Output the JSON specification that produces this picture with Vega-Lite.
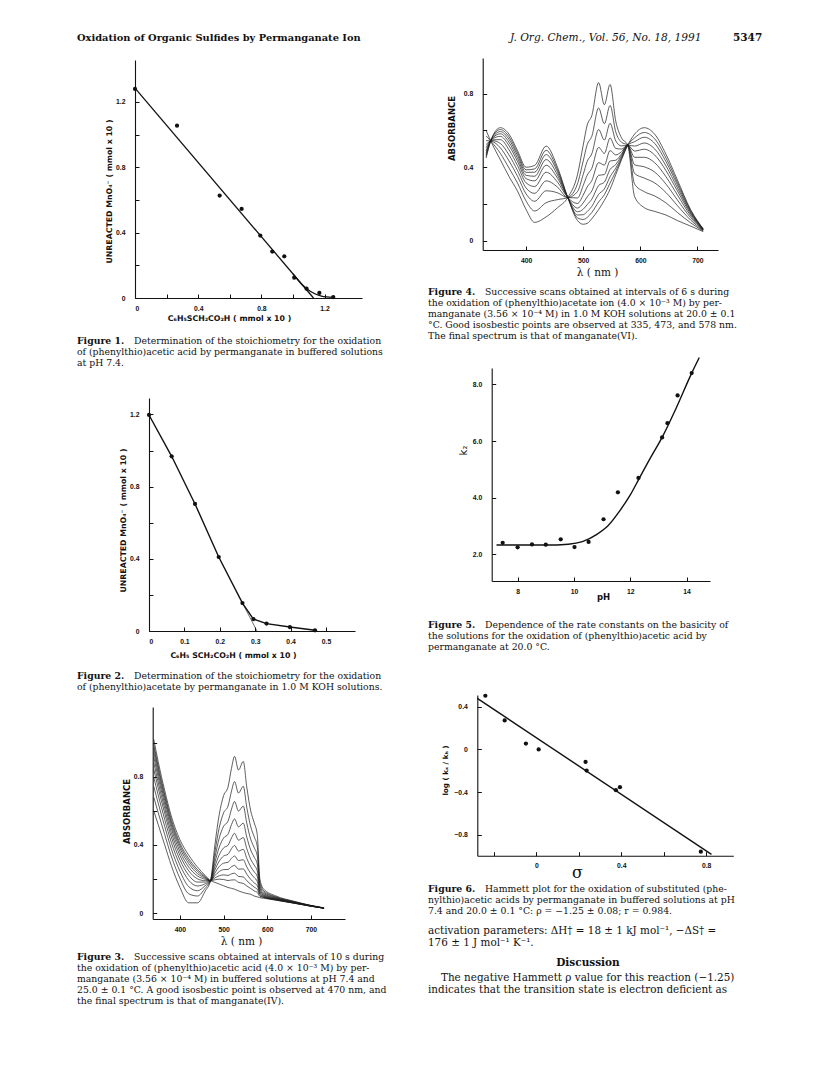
{
  "$schema": "https://vega.github.io/schema/vega-lite/v6.json",
  "width": 824,
  "height": 1071,
  "autosize": {"type": "none"},
  "padding": 0,
  "background": "white",
  "config": {
    "view": {"stroke": null},
    "axis": {
      "grid": false,
      "domainColor": "#111",
      "domainWidth": 1.1,
      "tickColor": "#111",
      "tickWidth": 1,
      "tickSize": -4,
      "labelFont": "Liberation Sans",
      "labelFontSize": 6.8,
      "labelFontWeight": "bold",
      "labelColor": "#111",
      "titleFont": "DejaVu Sans",
      "titleFontSize": 7.8,
      "titleFontWeight": "bold",
      "titleColor": "#111",
      "titleBaseline": "middle"
    },
    "axisX": {"labelPadding": 11},
    "axisY": {"labelPadding": 14}
  },
  "datasets": {
    "f1pts": [
      {"x": 0, "y": 1.28}, {"x": 0.266, "y": 1.055}, {"x": 0.536, "y": 0.627}, {"x": 0.675, "y": 0.545},
      {"x": 0.793, "y": 0.382}, {"x": 0.869, "y": 0.284}, {"x": 0.945, "y": 0.255}, {"x": 1.008, "y": 0.124},
      {"x": 1.086, "y": 0.057}, {"x": 1.167, "y": 0.031}, {"x": 1.255, "y": 0.006}
    ],
    "f1fit": [{"x": 0, "y": 1.285}, {"x": 1.13, "y": 0}],
    "f1curve": [{"x": 1.0, "y": 0.148}, {"x": 1.06, "y": 0.08}, {"x": 1.12, "y": 0.035}, {"x": 1.18, "y": 0.012}, {"x": 1.255, "y": 0.004}],
    "f2pts": [
      {"x": 0, "y": 1.197}, {"x": 0.064, "y": 0.968}, {"x": 0.13, "y": 0.704}, {"x": 0.197, "y": 0.41},
      {"x": 0.264, "y": 0.155}, {"x": 0.295, "y": 0.066}, {"x": 0.332, "y": 0.041}, {"x": 0.398, "y": 0.022},
      {"x": 0.469, "y": 0.004}
    ],
    "f2ext": [{"x": 0.264, "y": 0.155}, {"x": 0.305, "y": 0}],
    "f5pts": [
      {"x": 7.47, "y": 2.41}, {"x": 8.0, "y": 2.25}, {"x": 8.51, "y": 2.35}, {"x": 9.0, "y": 2.34},
      {"x": 9.53, "y": 2.53}, {"x": 10.02, "y": 2.26}, {"x": 10.52, "y": 2.44}, {"x": 11.05, "y": 3.24},
      {"x": 11.56, "y": 4.19}, {"x": 12.29, "y": 4.7}, {"x": 13.13, "y": 6.13}, {"x": 13.32, "y": 6.63},
      {"x": 13.68, "y": 7.61}, {"x": 14.18, "y": 8.4}
    ],
    "f5fit": [
      {"x": 7.25, "y": 2.33}, {"x": 8, "y": 2.33}, {"x": 9, "y": 2.33}, {"x": 9.8, "y": 2.36}, {"x": 10.3, "y": 2.45},
      {"x": 10.8, "y": 2.7}, {"x": 11.2, "y": 3.0}, {"x": 11.6, "y": 3.5}, {"x": 12.0, "y": 4.1}, {"x": 12.3, "y": 4.65},
      {"x": 12.7, "y": 5.38}, {"x": 13.13, "y": 6.13}, {"x": 13.6, "y": 7.1}, {"x": 14.18, "y": 8.4}, {"x": 14.45, "y": 8.95}
    ],
    "f6pts": [
      {"x": -0.24, "y": 0.503}, {"x": -0.149, "y": 0.272}, {"x": -0.049, "y": 0.056}, {"x": 0.011, "y": 0},
      {"x": 0.232, "y": -0.116}, {"x": 0.237, "y": -0.197}, {"x": 0.375, "y": -0.381}, {"x": 0.394, "y": -0.353},
      {"x": 0.775, "y": -0.956}
    ],
    "f6fit": [{"x": -0.278, "y": 0.478}, {"x": 0.825, "y": -0.981}],
    "f3": [
      {"s":0,"x":340,"y":0.6},{"s":0,"x":350,"y":0.52},{"s":0,"x":365,"y":0.4},{"s":0,"x":380,"y":0.28},{"s":0,"x":400,"y":0.15},{"s":0,"x":420,"y":0.06},{"s":0,"x":440,"y":0.06},{"s":0,"x":458,"y":0.13},{"s":0,"x":470,"y":0.19},{"s":0,"x":480,"y":0.4},{"s":0,"x":490,"y":0.58},{"s":0,"x":500,"y":0.69},{"s":0,"x":510,"y":0.74},{"s":0,"x":518,"y":0.85},{"s":0,"x":525,"y":0.92},{"s":0,"x":534,"y":0.84},{"s":0,"x":545,"y":0.89},{"s":0,"x":553,"y":0.74},{"s":0,"x":562,"y":0.6},{"s":0,"x":570,"y":0.53},{"s":0,"x":577,"y":0.46},{"s":0,"x":583,"y":0.2},{"s":0,"x":592,"y":0.14},{"s":0,"x":620,"y":0.1},{"s":0,"x":660,"y":0.07},{"s":0,"x":700,"y":0.045},{"s":0,"x":730,"y":0.03},
      {"s":1,"x":340,"y":0.68},{"s":1,"x":350,"y":0.59},{"s":1,"x":365,"y":0.461},{"s":1,"x":380,"y":0.335},{"s":1,"x":400,"y":0.203},{"s":1,"x":420,"y":0.113},{"s":1,"x":440,"y":0.1},{"s":1,"x":458,"y":0.147},{"s":1,"x":470,"y":0.19},{"s":1,"x":480,"y":0.358},{"s":1,"x":490,"y":0.502},{"s":1,"x":500,"y":0.589},{"s":1,"x":510,"y":0.628},{"s":1,"x":518,"y":0.716},{"s":1,"x":525,"y":0.772},{"s":1,"x":534,"y":0.705},{"s":1,"x":545,"y":0.744},{"s":1,"x":553,"y":0.621},{"s":1,"x":562,"y":0.507},{"s":1,"x":570,"y":0.448},{"s":1,"x":577,"y":0.391},{"s":1,"x":583,"y":0.179},{"s":1,"x":592,"y":0.13},{"s":1,"x":620,"y":0.095},{"s":1,"x":660,"y":0.068},{"s":1,"x":700,"y":0.044},{"s":1,"x":730,"y":0.03},
      {"s":2,"x":340,"y":0.743},{"s":2,"x":350,"y":0.646},{"s":2,"x":365,"y":0.509},{"s":2,"x":380,"y":0.379},{"s":2,"x":400,"y":0.245},{"s":2,"x":420,"y":0.155},{"s":2,"x":440,"y":0.131},{"s":2,"x":458,"y":0.161},{"s":2,"x":470,"y":0.19},{"s":2,"x":480,"y":0.325},{"s":2,"x":490,"y":0.441},{"s":2,"x":500,"y":0.51},{"s":2,"x":510,"y":0.539},{"s":2,"x":518,"y":0.61},{"s":2,"x":525,"y":0.655},{"s":2,"x":534,"y":0.599},{"s":2,"x":545,"y":0.628},{"s":2,"x":553,"y":0.528},{"s":2,"x":562,"y":0.433},{"s":2,"x":570,"y":0.384},{"s":2,"x":577,"y":0.336},{"s":2,"x":583,"y":0.163},{"s":2,"x":592,"y":0.122},{"s":2,"x":620,"y":0.092},{"s":2,"x":660,"y":0.066},{"s":2,"x":700,"y":0.043},{"s":2,"x":730,"y":0.029},
      {"s":3,"x":340,"y":0.797},{"s":3,"x":350,"y":0.694},{"s":3,"x":365,"y":0.55},{"s":3,"x":380,"y":0.416},{"s":3,"x":400,"y":0.282},{"s":3,"x":420,"y":0.192},{"s":3,"x":440,"y":0.159},{"s":3,"x":458,"y":0.172},{"s":3,"x":470,"y":0.19},{"s":3,"x":480,"y":0.297},{"s":3,"x":490,"y":0.387},{"s":3,"x":500,"y":0.441},{"s":3,"x":510,"y":0.463},{"s":3,"x":518,"y":0.519},{"s":3,"x":525,"y":0.553},{"s":3,"x":534,"y":0.506},{"s":3,"x":545,"y":0.528},{"s":3,"x":553,"y":0.446},{"s":3,"x":562,"y":0.37},{"s":3,"x":570,"y":0.328},{"s":3,"x":577,"y":0.288},{"s":3,"x":583,"y":0.148},{"s":3,"x":592,"y":0.115},{"s":3,"x":620,"y":0.088},{"s":3,"x":660,"y":0.064},{"s":3,"x":700,"y":0.043},{"s":3,"x":730,"y":0.029},
      {"s":4,"x":340,"y":0.844},{"s":4,"x":350,"y":0.735},{"s":4,"x":365,"y":0.586},{"s":4,"x":380,"y":0.448},{"s":4,"x":400,"y":0.312},{"s":4,"x":420,"y":0.222},{"s":4,"x":440,"y":0.182},{"s":4,"x":458,"y":0.182},{"s":4,"x":470,"y":0.19},{"s":4,"x":480,"y":0.272},{"s":4,"x":490,"y":0.342},{"s":4,"x":500,"y":0.383},{"s":4,"x":510,"y":0.398},{"s":4,"x":518,"y":0.441},{"s":4,"x":525,"y":0.468},{"s":4,"x":534,"y":0.428},{"s":4,"x":545,"y":0.443},{"s":4,"x":553,"y":0.378},{"s":4,"x":562,"y":0.316},{"s":4,"x":570,"y":0.281},{"s":4,"x":577,"y":0.248},{"s":4,"x":583,"y":0.136},{"s":4,"x":592,"y":0.109},{"s":4,"x":620,"y":0.086},{"s":4,"x":660,"y":0.063},{"s":4,"x":700,"y":0.042},{"s":4,"x":730,"y":0.029},
      {"s":5,"x":340,"y":0.881},{"s":5,"x":350,"y":0.768},{"s":5,"x":365,"y":0.614},{"s":5,"x":380,"y":0.474},{"s":5,"x":400,"y":0.338},{"s":5,"x":420,"y":0.248},{"s":5,"x":440,"y":0.201},{"s":5,"x":458,"y":0.19},{"s":5,"x":470,"y":0.19},{"s":5,"x":480,"y":0.253},{"s":5,"x":490,"y":0.305},{"s":5,"x":500,"y":0.335},{"s":5,"x":510,"y":0.345},{"s":5,"x":518,"y":0.378},{"s":5,"x":525,"y":0.397},{"s":5,"x":534,"y":0.364},{"s":5,"x":545,"y":0.374},{"s":5,"x":553,"y":0.321},{"s":5,"x":562,"y":0.272},{"s":5,"x":570,"y":0.242},{"s":5,"x":577,"y":0.215},{"s":5,"x":583,"y":0.126},{"s":5,"x":592,"y":0.104},{"s":5,"x":620,"y":0.083},{"s":5,"x":660,"y":0.062},{"s":5,"x":700,"y":0.042},{"s":5,"x":730,"y":0.029},
      {"s":6,"x":340,"y":0.915},{"s":6,"x":350,"y":0.798},{"s":6,"x":365,"y":0.64},{"s":6,"x":380,"y":0.498},{"s":6,"x":400,"y":0.36},{"s":6,"x":420,"y":0.27},{"s":6,"x":440,"y":0.218},{"s":6,"x":458,"y":0.198},{"s":6,"x":470,"y":0.19},{"s":6,"x":480,"y":0.235},{"s":6,"x":490,"y":0.273},{"s":6,"x":500,"y":0.293},{"s":6,"x":510,"y":0.298},{"s":6,"x":518,"y":0.321},{"s":6,"x":525,"y":0.335},{"s":6,"x":534,"y":0.308},{"s":6,"x":545,"y":0.313},{"s":6,"x":553,"y":0.271},{"s":6,"x":562,"y":0.233},{"s":6,"x":570,"y":0.208},{"s":6,"x":577,"y":0.186},{"s":6,"x":583,"y":0.118},{"s":6,"x":592,"y":0.1},{"s":6,"x":620,"y":0.081},{"s":6,"x":660,"y":0.061},{"s":6,"x":700,"y":0.041},{"s":6,"x":730,"y":0.029},
      {"s":7,"x":340,"y":0.944},{"s":7,"x":350,"y":0.823},{"s":7,"x":365,"y":0.662},{"s":7,"x":380,"y":0.518},{"s":7,"x":400,"y":0.38},{"s":7,"x":420,"y":0.29},{"s":7,"x":440,"y":0.232},{"s":7,"x":458,"y":0.204},{"s":7,"x":470,"y":0.19},{"s":7,"x":480,"y":0.22},{"s":7,"x":490,"y":0.244},{"s":7,"x":500,"y":0.255},{"s":7,"x":510,"y":0.256},{"s":7,"x":518,"y":0.272},{"s":7,"x":525,"y":0.28},{"s":7,"x":534,"y":0.258},{"s":7,"x":545,"y":0.259},{"s":7,"x":553,"y":0.228},{"s":7,"x":562,"y":0.198},{"s":7,"x":570,"y":0.177},{"s":7,"x":577,"y":0.161},{"s":7,"x":583,"y":0.11},{"s":7,"x":592,"y":0.097},{"s":7,"x":620,"y":0.08},{"s":7,"x":660,"y":0.06},{"s":7,"x":700,"y":0.041},{"s":7,"x":730,"y":0.028},
      {"s":8,"x":340,"y":0.97},{"s":8,"x":350,"y":0.846},{"s":8,"x":365,"y":0.682},{"s":8,"x":380,"y":0.535},{"s":8,"x":400,"y":0.396},{"s":8,"x":420,"y":0.306},{"s":8,"x":440,"y":0.245},{"s":8,"x":458,"y":0.209},{"s":8,"x":470,"y":0.19},{"s":8,"x":480,"y":0.206},{"s":8,"x":490,"y":0.219},{"s":8,"x":500,"y":0.224},{"s":8,"x":510,"y":0.221},{"s":8,"x":518,"y":0.23},{"s":8,"x":525,"y":0.234},{"s":8,"x":534,"y":0.215},{"s":8,"x":545,"y":0.212},{"s":8,"x":553,"y":0.19},{"s":8,"x":562,"y":0.169},{"s":8,"x":570,"y":0.152},{"s":8,"x":577,"y":0.139},{"s":8,"x":583,"y":0.103},{"s":8,"x":592,"y":0.093},{"s":8,"x":620,"y":0.078},{"s":8,"x":660,"y":0.059},{"s":8,"x":700,"y":0.041},{"s":8,"x":730,"y":0.028},
      {"s":9,"x":340,"y":0.991},{"s":9,"x":350,"y":0.864},{"s":9,"x":365,"y":0.698},{"s":9,"x":380,"y":0.55},{"s":9,"x":400,"y":0.41},{"s":9,"x":420,"y":0.32},{"s":9,"x":440,"y":0.255},{"s":9,"x":458,"y":0.214},{"s":9,"x":470,"y":0.19},{"s":9,"x":480,"y":0.195},{"s":9,"x":490,"y":0.199},{"s":9,"x":500,"y":0.197},{"s":9,"x":510,"y":0.191},{"s":9,"x":518,"y":0.194},{"s":9,"x":525,"y":0.195},{"s":9,"x":534,"y":0.18},{"s":9,"x":545,"y":0.174},{"s":9,"x":553,"y":0.159},{"s":9,"x":562,"y":0.144},{"s":9,"x":570,"y":0.13},{"s":9,"x":577,"y":0.121},{"s":9,"x":583,"y":0.098},{"s":9,"x":592,"y":0.091},{"s":9,"x":620,"y":0.077},{"s":9,"x":660,"y":0.059},{"s":9,"x":700,"y":0.04},{"s":9,"x":730,"y":0.028},
      {"s":10,"x":340,"y":1.02},{"s":10,"x":350,"y":0.89},{"s":10,"x":365,"y":0.72},{"s":10,"x":380,"y":0.57},{"s":10,"x":400,"y":0.43},{"s":10,"x":420,"y":0.34},{"s":10,"x":440,"y":0.27},{"s":10,"x":458,"y":0.22},{"s":10,"x":470,"y":0.19},{"s":10,"x":480,"y":0.18},{"s":10,"x":490,"y":0.17},{"s":10,"x":500,"y":0.16},{"s":10,"x":510,"y":0.15},{"s":10,"x":518,"y":0.145},{"s":10,"x":525,"y":0.14},{"s":10,"x":534,"y":0.13},{"s":10,"x":545,"y":0.12},{"s":10,"x":553,"y":0.115},{"s":10,"x":562,"y":0.11},{"s":10,"x":570,"y":0.1},{"s":10,"x":577,"y":0.095},{"s":10,"x":583,"y":0.09},{"s":10,"x":592,"y":0.087},{"s":10,"x":620,"y":0.075},{"s":10,"x":660,"y":0.058},{"s":10,"x":700,"y":0.04},{"s":10,"x":730,"y":0.028}
    ],
    "f4": [
      {"s":0,"x":330,"y":0.6},{"s":0,"x":340,"y":0.53},{"s":0,"x":355,"y":0.44},{"s":0,"x":370,"y":0.35},{"s":0,"x":385,"y":0.27},{"s":0,"x":400,"y":0.17},{"s":0,"x":415,"y":0.1},{"s":0,"x":435,"y":0.13},{"s":0,"x":455,"y":0.18},{"s":0,"x":473,"y":0.235},{"s":0,"x":490,"y":0.36},{"s":0,"x":500,"y":0.52},{"s":0,"x":507,"y":0.63},{"s":0,"x":515,"y":0.68},{"s":0,"x":527,"y":0.86},{"s":0,"x":537,"y":0.74},{"s":0,"x":547,"y":0.85},{"s":0,"x":557,"y":0.65},{"s":0,"x":567,"y":0.56},{"s":0,"x":578,"y":0.52},{"s":0,"x":590,"y":0.24},{"s":0,"x":607,"y":0.18},{"s":0,"x":625,"y":0.16},{"s":0,"x":645,"y":0.14},{"s":0,"x":665,"y":0.11},{"s":0,"x":688,"y":0.08},{"s":0,"x":710,"y":0.05},
      {"s":1,"x":330,"y":0.57},{"s":1,"x":340,"y":0.536},{"s":1,"x":355,"y":0.475},{"s":1,"x":370,"y":0.396},{"s":1,"x":385,"y":0.314},{"s":1,"x":400,"y":0.216},{"s":1,"x":415,"y":0.162},{"s":1,"x":435,"y":0.207},{"s":1,"x":455,"y":0.224},{"s":1,"x":473,"y":0.235},{"s":1,"x":490,"y":0.31},{"s":1,"x":500,"y":0.434},{"s":1,"x":507,"y":0.523},{"s":1,"x":515,"y":0.568},{"s":1,"x":527,"y":0.722},{"s":1,"x":537,"y":0.636},{"s":1,"x":547,"y":0.736},{"s":1,"x":557,"y":0.592},{"s":1,"x":567,"y":0.536},{"s":1,"x":578,"y":0.52},{"s":1,"x":590,"y":0.308},{"s":1,"x":607,"y":0.267},{"s":1,"x":625,"y":0.244},{"s":1,"x":645,"y":0.206},{"s":1,"x":665,"y":0.154},{"s":1,"x":688,"y":0.098},{"s":1,"x":710,"y":0.053},
      {"s":2,"x":330,"y":0.545},{"s":2,"x":340,"y":0.541},{"s":2,"x":355,"y":0.505},{"s":2,"x":370,"y":0.435},{"s":2,"x":385,"y":0.351},{"s":2,"x":400,"y":0.255},{"s":2,"x":415,"y":0.215},{"s":2,"x":435,"y":0.272},{"s":2,"x":455,"y":0.261},{"s":2,"x":473,"y":0.235},{"s":2,"x":490,"y":0.268},{"s":2,"x":500,"y":0.361},{"s":2,"x":507,"y":0.432},{"s":2,"x":515,"y":0.473},{"s":2,"x":527,"y":0.605},{"s":2,"x":537,"y":0.548},{"s":2,"x":547,"y":0.639},{"s":2,"x":557,"y":0.543},{"s":2,"x":567,"y":0.516},{"s":2,"x":578,"y":0.52},{"s":2,"x":590,"y":0.366},{"s":2,"x":607,"y":0.341},{"s":2,"x":625,"y":0.315},{"s":2,"x":645,"y":0.262},{"s":2,"x":665,"y":0.191},{"s":2,"x":688,"y":0.113},{"s":2,"x":710,"y":0.056},
      {"s":3,"x":330,"y":0.524},{"s":3,"x":340,"y":0.545},{"s":3,"x":355,"y":0.529},{"s":3,"x":370,"y":0.467},{"s":3,"x":385,"y":0.382},{"s":3,"x":400,"y":0.287},{"s":3,"x":415,"y":0.258},{"s":3,"x":435,"y":0.326},{"s":3,"x":455,"y":0.292},{"s":3,"x":473,"y":0.235},{"s":3,"x":490,"y":0.233},{"s":3,"x":500,"y":0.301},{"s":3,"x":507,"y":0.357},{"s":3,"x":515,"y":0.394},{"s":3,"x":527,"y":0.508},{"s":3,"x":537,"y":0.475},{"s":3,"x":547,"y":0.559},{"s":3,"x":557,"y":0.502},{"s":3,"x":567,"y":0.499},{"s":3,"x":578,"y":0.52},{"s":3,"x":590,"y":0.413},{"s":3,"x":607,"y":0.402},{"s":3,"x":625,"y":0.374},{"s":3,"x":645,"y":0.308},{"s":3,"x":665,"y":0.222},{"s":3,"x":688,"y":0.126},{"s":3,"x":710,"y":0.058},
      {"s":4,"x":330,"y":0.506},{"s":4,"x":340,"y":0.549},{"s":4,"x":355,"y":0.55},{"s":4,"x":370,"y":0.495},{"s":4,"x":385,"y":0.409},{"s":4,"x":400,"y":0.315},{"s":4,"x":415,"y":0.295},{"s":4,"x":435,"y":0.373},{"s":4,"x":455,"y":0.319},{"s":4,"x":473,"y":0.235},{"s":4,"x":490,"y":0.203},{"s":4,"x":500,"y":0.249},{"s":4,"x":507,"y":0.293},{"s":4,"x":515,"y":0.327},{"s":4,"x":527,"y":0.425},{"s":4,"x":537,"y":0.412},{"s":4,"x":547,"y":0.491},{"s":4,"x":557,"y":0.467},{"s":4,"x":567,"y":0.484},{"s":4,"x":578,"y":0.52},{"s":4,"x":590,"y":0.454},{"s":4,"x":607,"y":0.454},{"s":4,"x":625,"y":0.425},{"s":4,"x":645,"y":0.348},{"s":4,"x":665,"y":0.249},{"s":4,"x":688,"y":0.137},{"s":4,"x":710,"y":0.059},
      {"s":5,"x":330,"y":0.49},{"s":5,"x":340,"y":0.552},{"s":5,"x":355,"y":0.568},{"s":5,"x":370,"y":0.518},{"s":5,"x":385,"y":0.431},{"s":5,"x":400,"y":0.338},{"s":5,"x":415,"y":0.326},{"s":5,"x":435,"y":0.411},{"s":5,"x":455,"y":0.341},{"s":5,"x":473,"y":0.235},{"s":5,"x":490,"y":0.178},{"s":5,"x":500,"y":0.206},{"s":5,"x":507,"y":0.239},{"s":5,"x":515,"y":0.271},{"s":5,"x":527,"y":0.356},{"s":5,"x":537,"y":0.36},{"s":5,"x":547,"y":0.434},{"s":5,"x":557,"y":0.438},{"s":5,"x":567,"y":0.472},{"s":5,"x":578,"y":0.52},{"s":5,"x":590,"y":0.488},{"s":5,"x":607,"y":0.498},{"s":5,"x":625,"y":0.467},{"s":5,"x":645,"y":0.381},{"s":5,"x":665,"y":0.271},{"s":5,"x":688,"y":0.146},{"s":5,"x":710,"y":0.061},
      {"s":6,"x":330,"y":0.478},{"s":6,"x":340,"y":0.554},{"s":6,"x":355,"y":0.582},{"s":6,"x":370,"y":0.536},{"s":6,"x":385,"y":0.448},{"s":6,"x":400,"y":0.356},{"s":6,"x":415,"y":0.351},{"s":6,"x":435,"y":0.442},{"s":6,"x":455,"y":0.358},{"s":6,"x":473,"y":0.235},{"s":6,"x":490,"y":0.158},{"s":6,"x":500,"y":0.172},{"s":6,"x":507,"y":0.197},{"s":6,"x":515,"y":0.226},{"s":6,"x":527,"y":0.301},{"s":6,"x":537,"y":0.319},{"s":6,"x":547,"y":0.388},{"s":6,"x":557,"y":0.415},{"s":6,"x":567,"y":0.463},{"s":6,"x":578,"y":0.52},{"s":6,"x":590,"y":0.515},{"s":6,"x":607,"y":0.532},{"s":6,"x":625,"y":0.5},{"s":6,"x":645,"y":0.407},{"s":6,"x":665,"y":0.288},{"s":6,"x":688,"y":0.153},{"s":6,"x":710,"y":0.062},
      {"s":7,"x":330,"y":0.468},{"s":7,"x":340,"y":0.556},{"s":7,"x":355,"y":0.594},{"s":7,"x":370,"y":0.552},{"s":7,"x":385,"y":0.464},{"s":7,"x":400,"y":0.372},{"s":7,"x":415,"y":0.373},{"s":7,"x":435,"y":0.469},{"s":7,"x":455,"y":0.374},{"s":7,"x":473,"y":0.235},{"s":7,"x":490,"y":0.14},{"s":7,"x":500,"y":0.142},{"s":7,"x":507,"y":0.159},{"s":7,"x":515,"y":0.187},{"s":7,"x":527,"y":0.253},{"s":7,"x":537,"y":0.282},{"s":7,"x":547,"y":0.348},{"s":7,"x":557,"y":0.395},{"s":7,"x":567,"y":0.454},{"s":7,"x":578,"y":0.52},{"s":7,"x":590,"y":0.539},{"s":7,"x":607,"y":0.563},{"s":7,"x":625,"y":0.53},{"s":7,"x":645,"y":0.43},{"s":7,"x":665,"y":0.304},{"s":7,"x":688,"y":0.159},{"s":7,"x":710,"y":0.063},
      {"s":8,"x":330,"y":0.459},{"s":8,"x":340,"y":0.558},{"s":8,"x":355,"y":0.605},{"s":8,"x":370,"y":0.566},{"s":8,"x":385,"y":0.477},{"s":8,"x":400,"y":0.386},{"s":8,"x":415,"y":0.391},{"s":8,"x":435,"y":0.492},{"s":8,"x":455,"y":0.387},{"s":8,"x":473,"y":0.235},{"s":8,"x":490,"y":0.125},{"s":8,"x":500,"y":0.116},{"s":8,"x":507,"y":0.127},{"s":8,"x":515,"y":0.154},{"s":8,"x":527,"y":0.211},{"s":8,"x":537,"y":0.251},{"s":8,"x":547,"y":0.314},{"s":8,"x":557,"y":0.377},{"s":8,"x":567,"y":0.447},{"s":8,"x":578,"y":0.52},{"s":8,"x":590,"y":0.56},{"s":8,"x":607,"y":0.589},{"s":8,"x":625,"y":0.555},{"s":8,"x":645,"y":0.45},{"s":8,"x":665,"y":0.317},{"s":8,"x":688,"y":0.165},{"s":8,"x":710,"y":0.064},
      {"s":9,"x":330,"y":0.45},{"s":9,"x":340,"y":0.56},{"s":9,"x":355,"y":0.615},{"s":9,"x":370,"y":0.58},{"s":9,"x":385,"y":0.49},{"s":9,"x":400,"y":0.4},{"s":9,"x":415,"y":0.41},{"s":9,"x":435,"y":0.515},{"s":9,"x":455,"y":0.4},{"s":9,"x":473,"y":0.235},{"s":9,"x":490,"y":0.11},{"s":9,"x":500,"y":0.09},{"s":9,"x":507,"y":0.095},{"s":9,"x":515,"y":0.12},{"s":9,"x":527,"y":0.17},{"s":9,"x":537,"y":0.22},{"s":9,"x":547,"y":0.28},{"s":9,"x":557,"y":0.36},{"s":9,"x":567,"y":0.44},{"s":9,"x":578,"y":0.52},{"s":9,"x":590,"y":0.58},{"s":9,"x":607,"y":0.615},{"s":9,"x":625,"y":0.58},{"s":9,"x":645,"y":0.47},{"s":9,"x":665,"y":0.33},{"s":9,"x":688,"y":0.17},{"s":9,"x":710,"y":0.065}
    ]
  },
  "resolve": {"scale": {"x": "independent", "y": "independent"}},
  "layer": [
    {
      "encoding": {
        "x": {"field": "x", "type": "quantitative",
          "scale": {"domain": [0, 1.437], "range": [135, 362], "nice": false, "zero": false},
          "axis": {"orient": "bottom", "offset": -773, "values": [0, 0.2, 0.4, 0.6, 0.8, 1, 1.2],
            "labelExpr": "datum.value == 0 ? '0' : (abs(round(datum.value*10)) % 4 == 0 ? format(datum.value, '.1f') : '')",
            "title": "C₆H₅SCH₂CO₂H  ( mmol x 10 )", "titleX": 229, "titleY": 20}},
        "y": {"field": "y", "type": "quantitative",
          "scale": {"domain": [0, 1.457], "range": [298, 60], "nice": false, "zero": false},
          "axis": {"orient": "left", "offset": -135, "values": [0, 0.2, 0.4, 0.6, 0.8, 1, 1.2],
            "labelExpr": "datum.value == 0 ? '0' : (abs(round(datum.value*10)) % 4 == 0 ? format(datum.value, '.1f') : '')",
            "title": "UNREACTED  MnO₄⁻  ( mmol x 10 )", "titleX": -26, "titleY": 191}}
      },
      "layer": [
        {"data": {"name": "f1fit"}, "mark": {"type": "line", "color": "#111", "strokeWidth": 1.3}},
        {"data": {"name": "f1curve"}, "mark": {"type": "line", "color": "#111", "strokeWidth": 1.3, "interpolate": "monotone"}},
        {"data": {"name": "f1pts"}, "mark": {"type": "point", "filled": true, "size": 18, "color": "#111", "opacity": 1}}
      ]
    },
    {
      "encoding": {
        "x": {"field": "x", "type": "quantitative",
          "scale": {"domain": [0, 0.582], "range": [149, 355], "nice": false, "zero": false},
          "axis": {"orient": "bottom", "offset": -440, "values": [0, 0.1, 0.2, 0.3, 0.4, 0.5],
            "labelExpr": "datum.value == 0 ? '0' : format(datum.value, '.1f')",
            "title": "C₆H₅ SCH₂CO₂H  ( mmol x 10 )", "titleX": 233, "titleY": 24}},
        "y": {"field": "y", "type": "quantitative",
          "scale": {"domain": [0, 1.291], "range": [631, 398], "nice": false, "zero": false},
          "axis": {"orient": "left", "offset": -149, "values": [0, 0.2, 0.4, 0.6, 0.8, 1, 1.2],
            "labelExpr": "datum.value == 0 ? '0' : (abs(round(datum.value*10)) % 4 == 0 ? format(datum.value, '.1f') : '')",
            "title": "UNREACTED  MnO₄⁻  ( mmol x 10 )", "titleX": -26, "titleY": 520}}
      },
      "layer": [
        {"data": {"name": "f2ext"}, "mark": {"type": "line", "color": "#111", "strokeWidth": 0.6}},
        {"data": {"name": "f2pts"}, "mark": {"type": "line", "color": "#111", "strokeWidth": 1.4}},
        {"data": {"name": "f2pts"}, "mark": {"type": "point", "filled": true, "size": 18, "color": "#111", "opacity": 1}}
      ]
    },
    {
      "data": {"name": "f3"},
      "mark": {"type": "line", "interpolate": "monotone", "color": "#1a1a1a", "strokeWidth": 0.7},
      "encoding": {
        "x": {"field": "x", "type": "quantitative",
          "scale": {"domain": [337.5, 778], "range": [152.7, 345], "nice": false, "zero": false},
          "axis": {"orient": "bottom", "offset": -152, "values": [400, 500, 600, 700], "format": "d",
            "title": "λ ( nm )", "titleFont": "DejaVu Serif", "titleFontSize": 10.5, "titleFontWeight": "normal", "titleX": 241, "titleY": 22}},
        "y": {"field": "y", "type": "quantitative",
          "scale": {"domain": [-0.035, 1.21], "range": [919, 707], "nice": false, "zero": false},
          "axis": {"orient": "left", "offset": -152.7, "values": [0, 0.2, 0.4, 0.6, 0.8, 1],
            "labelExpr": "datum.value == 0 ? '0' : (abs(round(datum.value*10)) % 4 == 0 ? format(datum.value, '.1f') : '')",
            "title": "ABSORBANCE", "titleFontSize": 8.5, "titleX": -26, "titleY": 811}},
        "detail": {"field": "s", "type": "nominal"}
      }
    },
    {
      "data": {"name": "f4"},
      "mark": {"type": "line", "interpolate": "monotone", "color": "#1a1a1a", "strokeWidth": 0.7},
      "encoding": {
        "x": {"field": "x", "type": "quantitative",
          "scale": {"domain": [324, 736], "range": [482.7, 718], "nice": false, "zero": false},
          "axis": {"orient": "bottom", "offset": -821, "values": [400, 500, 600, 700], "format": "d",
            "title": "λ ( nm )", "titleFont": "DejaVu Serif", "titleFontSize": 10.5, "titleFontWeight": "normal", "titleX": 597, "titleY": 22}},
        "y": {"field": "y", "type": "quantitative",
          "scale": {"domain": [-0.05, 0.994], "range": [250, 58], "nice": false, "zero": false},
          "axis": {"orient": "left", "offset": -482.7, "values": [0, 0.2, 0.4, 0.6, 0.8],
            "labelExpr": "datum.value == 0 ? '0' : (abs(round(datum.value*10)) % 4 == 0 ? format(datum.value, '.1f') : '')",
            "title": "ABSORBANCE", "titleFontSize": 8.5, "titleX": -31, "titleY": 128}},
        "detail": {"field": "s", "type": "nominal"}
      }
    },
    {
      "encoding": {
        "x": {"field": "x", "type": "quantitative",
          "scale": {"domain": [7.08, 14.83], "range": [491.7, 710], "nice": false, "zero": false},
          "axis": {"orient": "bottom", "offset": -490, "values": [8, 10, 12, 14], "format": "d",
            "title": "pH", "titleFontSize": 8.5, "titleX": 603, "titleY": 15}},
        "y": {"field": "y", "type": "quantitative",
          "scale": {"domain": [1.06, 8.58], "range": [581, 368], "nice": false, "zero": false},
          "axis": {"orient": "left", "offset": -491.7, "values": [2, 4, 6, 8], "format": ".1f",
            "title": "k₂", "titleFontSize": 10, "titleFontWeight": "normal", "titleX": -28, "titleY": 450}}
      },
      "layer": [
        {"data": {"name": "f5fit"}, "mark": {"type": "line", "color": "#111", "strokeWidth": 1.4, "interpolate": "monotone"}},
        {"data": {"name": "f5pts"}, "mark": {"type": "point", "filled": true, "size": 18, "color": "#111", "opacity": 1}}
      ]
    },
    {
      "encoding": {
        "x": {"field": "x", "type": "quantitative",
          "scale": {"domain": [-0.278, 0.928], "range": [477.3, 733.3], "nice": false, "zero": false},
          "axis": {"orient": "bottom", "offset": -215.3, "values": [-0.2, 0, 0.2, 0.4, 0.6, 0.8],
            "labelExpr": "datum.value == 0 ? '0' : (abs(round(datum.value*10)) % 4 == 0 ? format(datum.value, '.1f') : '')",
            "title": "σ", "titleFont": "DejaVu Serif", "titleFontSize": 16, "titleFontWeight": "normal", "titleX": 577, "titleY": 17}},
        "y": {"field": "y", "type": "quantitative",
          "scale": {"domain": [-0.994, 0.51], "range": [855.7, 695], "nice": false, "zero": false},
          "axis": {"orient": "left", "offset": -477.3, "values": [-0.8, -0.4, 0, 0.4],
            "labelExpr": "datum.value == 0 ? '0' : format(datum.value, '.1f')",
            "title": "log ( kₓ / kₕ )", "titleFontSize": 7.2, "titleX": -32, "titleY": 770}}
      },
      "layer": [
        {"data": {"name": "f6fit"}, "mark": {"type": "line", "color": "#111", "strokeWidth": 1.4}},
        {"data": {"name": "f6pts"}, "mark": {"type": "point", "filled": true, "size": 18, "color": "#111", "opacity": 1}}
      ]
    },
    {"data": {"values": [{}]}, "mark": {"type": "text", "x": 77, "y": 41, "align": "left", "baseline": "alphabetic", "font": "DejaVu Serif", "fontSize": 9.85, "fontWeight": "bold", "color": "#111", "text": "Oxidation of Organic Sulfides by Permanganate Ion"}},
    {"data": {"values": [{}]}, "mark": {"type": "text", "x": 510, "y": 41, "align": "left", "baseline": "alphabetic", "font": "DejaVu Serif", "fontSize": 10.6, "fontStyle": "italic", "color": "#111", "text": "J. Org. Chem., Vol. 56, No. 18, 1991"}},
    {"data": {"values": [{}]}, "mark": {"type": "text", "x": 733, "y": 41, "align": "left", "baseline": "alphabetic", "font": "DejaVu Serif", "fontSize": 10.5, "fontWeight": "bold", "color": "#111", "text": "5347"}},

    {"data": {"values": [{}]}, "mark": {"type": "text", "x": 77, "y": 344, "align": "left", "baseline": "alphabetic", "font": "DejaVu Serif", "fontSize": 9.3, "fontWeight": "bold", "color": "#111", "text": "Figure 1."}},
    {"data": {"values": [{}]}, "mark": {"type": "text", "x": 134, "y": 344, "align": "left", "baseline": "alphabetic", "font": "DejaVu Serif", "fontSize": 9.3, "color": "#111", "text": "Determination of the stoichiometry for the oxidation"}},
    {"data": {"values": [{}]}, "mark": {"type": "text", "x": 77, "y": 355, "align": "left", "baseline": "alphabetic", "font": "DejaVu Serif", "fontSize": 9.3, "lineHeight": 11, "color": "#111", "text": ["of (phenylthio)acetic acid by permanganate in buffered solutions", "at pH 7.4."]}},

    {"data": {"values": [{}]}, "mark": {"type": "text", "x": 77, "y": 679, "align": "left", "baseline": "alphabetic", "font": "DejaVu Serif", "fontSize": 9.3, "fontWeight": "bold", "color": "#111", "text": "Figure 2."}},
    {"data": {"values": [{}]}, "mark": {"type": "text", "x": 134, "y": 679, "align": "left", "baseline": "alphabetic", "font": "DejaVu Serif", "fontSize": 9.3, "color": "#111", "text": "Determination of the stoichiometry for the oxidation"}},
    {"data": {"values": [{}]}, "mark": {"type": "text", "x": 77, "y": 690, "align": "left", "baseline": "alphabetic", "font": "DejaVu Serif", "fontSize": 9.3, "lineHeight": 11, "color": "#111", "text": ["of (phenylthio)acetate by permanganate in 1.0 M KOH solutions."]}},

    {"data": {"values": [{}]}, "mark": {"type": "text", "x": 77, "y": 960, "align": "left", "baseline": "alphabetic", "font": "DejaVu Serif", "fontSize": 9.3, "fontWeight": "bold", "color": "#111", "text": "Figure 3."}},
    {"data": {"values": [{}]}, "mark": {"type": "text", "x": 134, "y": 960, "align": "left", "baseline": "alphabetic", "font": "DejaVu Serif", "fontSize": 9.3, "color": "#111", "text": "Successive scans obtained at intervals of 10 s during"}},
    {"data": {"values": [{}]}, "mark": {"type": "text", "x": 77, "y": 971, "align": "left", "baseline": "alphabetic", "font": "DejaVu Serif", "fontSize": 9.3, "lineHeight": 11, "color": "#111", "text": ["the oxidation of (phenylthio)acetic acid (4.0 × 10⁻³ M) by per-", "manganate (3.56 × 10⁻⁴ M) in buffered solutions at pH 7.4 and", "25.0 ± 0.1 °C.  A good isosbestic point is observed at 470 nm, and", "the final spectrum is that of manganate(IV)."]}},

    {"data": {"values": [{}]}, "mark": {"type": "text", "x": 428, "y": 295, "align": "left", "baseline": "alphabetic", "font": "DejaVu Serif", "fontSize": 9.3, "fontWeight": "bold", "color": "#111", "text": "Figure 4."}},
    {"data": {"values": [{}]}, "mark": {"type": "text", "x": 485, "y": 295, "align": "left", "baseline": "alphabetic", "font": "DejaVu Serif", "fontSize": 9.3, "color": "#111", "text": "Successive scans obtained at intervals of 6 s during"}},
    {"data": {"values": [{}]}, "mark": {"type": "text", "x": 428, "y": 306, "align": "left", "baseline": "alphabetic", "font": "DejaVu Serif", "fontSize": 9.3, "lineHeight": 11, "color": "#111", "text": ["the oxidation of (phenylthio)acetate ion (4.0 × 10⁻³ M) by per-", "manganate (3.56 × 10⁻⁴ M) in 1.0 M KOH solutions at 20.0 ± 0.1", "°C.  Good isosbestic points are observed at 335, 473, and 578 nm.", "The final spectrum is that of manganate(VI)."]}},

    {"data": {"values": [{}]}, "mark": {"type": "text", "x": 428, "y": 628, "align": "left", "baseline": "alphabetic", "font": "DejaVu Serif", "fontSize": 9.3, "fontWeight": "bold", "color": "#111", "text": "Figure 5."}},
    {"data": {"values": [{}]}, "mark": {"type": "text", "x": 485, "y": 628, "align": "left", "baseline": "alphabetic", "font": "DejaVu Serif", "fontSize": 9.3, "color": "#111", "text": "Dependence of the rate constants on the basicity of"}},
    {"data": {"values": [{}]}, "mark": {"type": "text", "x": 428, "y": 639, "align": "left", "baseline": "alphabetic", "font": "DejaVu Serif", "fontSize": 9.3, "lineHeight": 11, "color": "#111", "text": ["the solutions for the oxidation of (phenylthio)acetic acid by", "permanganate at 20.0 °C."]}},

    {"data": {"values": [{}]}, "mark": {"type": "text", "x": 428, "y": 892, "align": "left", "baseline": "alphabetic", "font": "DejaVu Serif", "fontSize": 9.3, "fontWeight": "bold", "color": "#111", "text": "Figure 6."}},
    {"data": {"values": [{}]}, "mark": {"type": "text", "x": 485, "y": 892, "align": "left", "baseline": "alphabetic", "font": "DejaVu Serif", "fontSize": 9.3, "color": "#111", "text": "Hammett plot for the oxidation of substituted (phe-"}},
    {"data": {"values": [{}]}, "mark": {"type": "text", "x": 428, "y": 903, "align": "left", "baseline": "alphabetic", "font": "DejaVu Serif", "fontSize": 9.3, "lineHeight": 11, "color": "#111", "text": ["nylthio)acetic acids by permanganate in buffered solutions at pH", "7.4 and 20.0 ± 0.1 °C:  ρ = −1.25 ± 0.08; r = 0.984."]}},

    {"data": {"values": [{}]}, "mark": {"type": "text", "x": 428, "y": 934, "align": "left", "baseline": "alphabetic", "font": "DejaVu Serif", "fontSize": 10.4, "lineHeight": 11.5, "color": "#111", "text": ["activation parameters:   ΔH† = 18 ± 1 kJ mol⁻¹,  −ΔS† =", "176 ± 1 J mol⁻¹ K⁻¹."]}},
    {"data": {"values": [{}]}, "mark": {"type": "text", "x": 588, "y": 966, "align": "center", "baseline": "alphabetic", "font": "DejaVu Serif", "fontSize": 10.5, "fontWeight": "bold", "color": "#111", "text": "Discussion"}},
    {"data": {"values": [{}]}, "mark": {"type": "text", "x": 441, "y": 981, "align": "left", "baseline": "alphabetic", "font": "DejaVu Serif", "fontSize": 10.4, "color": "#111", "text": "The negative Hammett ρ value for this reaction (−1.25)"}},
    {"data": {"values": [{}]}, "mark": {"type": "text", "x": 428, "y": 992.5, "align": "left", "baseline": "alphabetic", "font": "DejaVu Serif", "fontSize": 10.4, "color": "#111", "text": "indicates that the transition state is electron deficient as"}}
  ]
}
